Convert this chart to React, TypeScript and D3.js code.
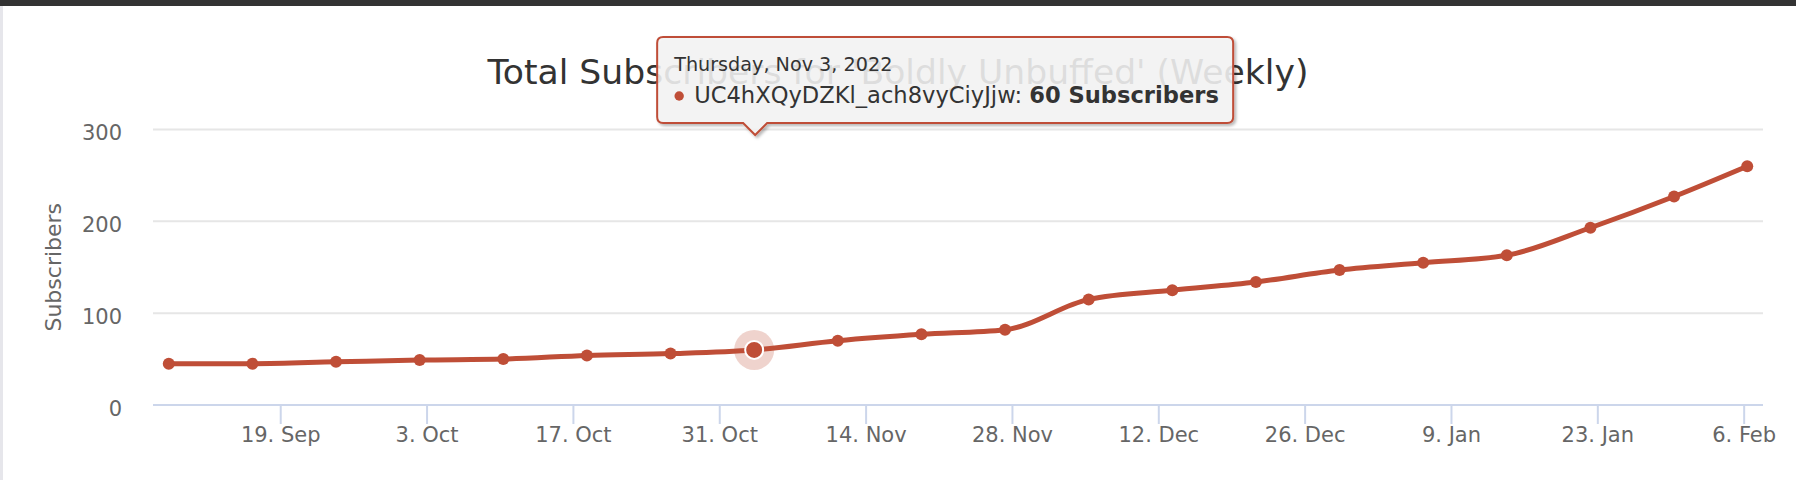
import React from "react";
import * as d3 from "d3";

// ---- data ----
const pointDates = [
  "2022-09-08T07:00:00Z", "2022-09-16T07:00:00Z", "2022-09-24T07:00:00Z", "2022-10-02T07:00:00Z",
  "2022-10-10T07:00:00Z", "2022-10-18T07:00:00Z", "2022-10-26T07:00:00Z", "2022-11-03T07:00:00Z",
  "2022-11-11T07:00:00Z", "2022-11-19T07:00:00Z", "2022-11-27T07:00:00Z", "2022-12-05T07:00:00Z",
  "2022-12-13T07:00:00Z", "2022-12-21T07:00:00Z", "2022-12-29T07:00:00Z", "2023-01-06T07:00:00Z",
  "2023-01-14T07:00:00Z", "2023-01-22T07:00:00Z", "2023-01-30T07:00:00Z", "2023-02-06T07:00:00Z",
];
const subscribers = [45, 45, 47, 49, 50, 54, 56, 60, 70, 77, 82, 115, 125, 134, 147, 155, 163, 193, 227, 260];
const tickDates = [
  "2022-09-19", "2022-10-03", "2022-10-17", "2022-10-31", "2022-11-14", "2022-11-28",
  "2022-12-12", "2022-12-26", "2023-01-09", "2023-01-23", "2023-02-06",
];
const yTicks = [0, 100, 200, 300];
const hoveredIndex = 7;
const seriesName = "UC4hXQyDZKl_ach8vyCiyJjw";
const chartTitle = "Total Subscribers for 'Boldly Unbuffed' (Weekly)";
const yAxisTitle = "Subscribers";

// ---- layout ----
const W = 1796;
const H = 480;
const plot = { left: 153, right: 1763, top: 129.5, bottom: 405 };
const color = "#bf4e37";
const font = "'DejaVu Sans', Verdana, sans-serif";

export default function App() {
  const dates = pointDates.map((d) => new Date(d));
  const ext = d3.extent(dates) as [Date, Date];
  const span = +ext[1] - +ext[0];
  const x = d3
    .scaleUtc()
    .domain([new Date(+ext[0] - span * 0.01), new Date(+ext[1] + span * 0.01)])
    .range([plot.left, plot.right]);
  const y = d3.scaleLinear().domain([0, 300]).range([plot.bottom, plot.top]);
  const line = d3
    .line<number>()
    .x((_, i) => x(dates[i]))
    .y((d) => y(d))
    .curve(d3.curveMonotoneX);
  const fmt = d3.utcFormat("%-d. %b");
  const ticks = tickDates.map((d) => new Date(d + "T00:00:00Z"));

  const hx = x(dates[hoveredIndex]);
  const hy = y(subscribers[hoveredIndex]);
  const header = d3.utcFormat("%A, %b %-d, %Y")(dates[hoveredIndex]);

  // tooltip box (anchored to hovered point x)
  const tL = hx - 97;
  const tR = tL + 576;
  const tT = 37;
  const tB = 123;
  const tipY = 135;
  const r = 6;
  const ax = hx + 1;
  const tipPath = [
    `M${tL + r},${tT}`,
    `H${tR - r}`,
    `Q${tR},${tT} ${tR},${tT + r}`,
    `V${tB - r}`,
    `Q${tR},${tB} ${tR - r},${tB}`,
    `H${ax + 12}`,
    `L${ax},${tipY}`,
    `L${ax - 12},${tB}`,
    `H${tL + r}`,
    `Q${tL},${tB} ${tL},${tB - r}`,
    `V${tT + r}`,
    `Q${tL},${tT} ${tL + r},${tT}`,
    "Z",
  ].join(" ");

  return (
    <div style={{ width: W, height: H, overflow: "hidden" }}>
      <style>{`body{margin:0;overflow:hidden;background:#fff}`}</style>
      <svg width={W} height={H} style={{ display: "block", fontFamily: font }}>
        <defs>
          <filter id="tshadow" x="-5%" y="-20%" width="115%" height="150%">
            <feDropShadow dx="2" dy="2" stdDeviation="1.6" floodColor="#000" floodOpacity="0.3" />
          </filter>
        </defs>
        <rect x={0} y={0} width={W} height={H} fill="#fff" />
        <rect x={0} y={0} width={3} height={H} fill="#e6e6eb" />
        <rect x={0} y={0} width={W} height={6} fill="#333333" />

        {/* title */}
        <text x={W / 2} y={84} textAnchor="middle" fontSize={34.6} fill="#333333">
          {chartTitle}
        </text>

        {/* grid */}
        {yTicks.slice(1).map((t) => (
          <line key={t} x1={plot.left} x2={plot.right} y1={y(t)} y2={y(t)} stroke="#e6e6e6" strokeWidth={2} />
        ))}
        {/* y labels */}
        {yTicks.map((t) => (
          <text key={t} x={122} y={y(t) + 10.5} textAnchor="end" fontSize={21} fill="#666666">
            {t}
          </text>
        ))}
        <text
          transform={`translate(61, ${(plot.top + plot.bottom) / 2}) rotate(-90)`}
          textAnchor="middle"
          fontSize={22}
          fill="#666666"
        >
          {yAxisTitle}
        </text>

        {/* x axis */}
        <line x1={plot.left} x2={plot.right} y1={plot.bottom} y2={plot.bottom} stroke="#ccd6eb" strokeWidth={2} />
        {ticks.map((t, i) => (
          <g key={i}>
            <line x1={x(t)} x2={x(t)} y1={plot.bottom} y2={plot.bottom + 19} stroke="#ccd6eb" strokeWidth={2} />
            <text x={x(t)} y={442} textAnchor="middle" fontSize={21} fill="#666666">
              {fmt(t)}
            </text>
          </g>
        ))}

        {/* series */}
        <path d={line(subscribers) || ""} fill="none" stroke={color} strokeWidth={5} strokeLinejoin="round" strokeLinecap="round" />
        {subscribers.map((v, i) => (
          <circle key={i} cx={x(dates[i])} cy={y(v)} r={6} fill={color} />
        ))}
        {/* hover */}
        <circle cx={hx} cy={hy} r={20} fill={color} fillOpacity={0.25} />
        <circle cx={hx} cy={hy} r={9} fill={color} stroke="#fff" strokeWidth={2} />

        {/* tooltip */}
        <path d={tipPath} fill="rgba(247,247,247,0.85)" stroke={color} strokeWidth={2} filter="url(#tshadow)" />
        <text x={tL + 17} y={71} fontSize={19.2} fill="#333333">
          {header}
        </text>
        <circle cx={tL + 22} cy={96} r={4.7} fill={color} />
        <text x={tL + 37} y={103} fontSize={22.6} fill="#333333">
          <tspan>{seriesName}: </tspan>
          <tspan fontWeight="bold">{subscribers[hoveredIndex]} Subscribers</tspan>
        </text>
      </svg>
    </div>
  );
}
